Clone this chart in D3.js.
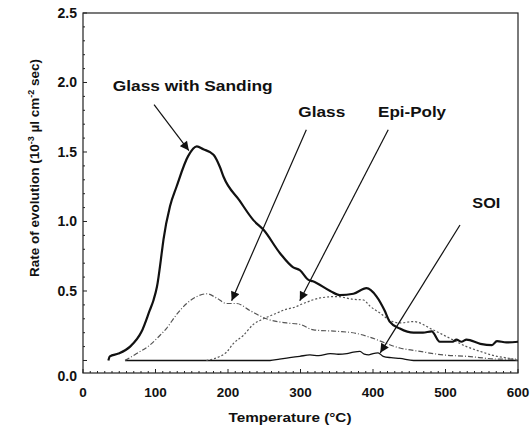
<!DOCTYPE html>
<html>
<head>
<meta charset="utf-8">
<script src="https://cdn.jsdelivr.net/npm/d3@7"></script>
<style>
  body { margin: 0; background: #fff; }
  text { font-family: "Liberation Sans", Arial, sans-serif; font-weight: bold; fill: #111; }
</style>
</head>
<body>
<div id="chart"></div>
<script>
// --- DATA ---
const sandT = [35, 37, 49, 65, 81, 92, 97, 102, 109, 111, 120, 129, 145, 157, 166, 180, 189, 194, 216, 235, 249, 272, 290, 299, 311, 317, 341, 354, 373, 391, 405, 416, 423, 437, 456, 469, 481, 492, 510, 515, 522, 529, 548, 564, 571, 584, 600];
const sandV = [0.0, 0.03, 0.05, 0.10, 0.21, 0.36, 0.43, 0.53, 0.79, 0.87, 1.11, 1.25, 1.47, 1.54, 1.52, 1.48, 1.39, 1.32, 1.15, 1.01, 0.94, 0.77, 0.67, 0.65, 0.58, 0.57, 0.50, 0.47, 0.48, 0.52, 0.46, 0.36, 0.28, 0.23, 0.20, 0.20, 0.21, 0.135, 0.135, 0.15, 0.135, 0.15, 0.12, 0.11, 0.14, 0.13, 0.135];

const glassT = [58, 74, 92, 106, 115, 129, 143, 157, 171, 184, 198, 212, 230, 253, 281, 299, 318, 350, 377, 394, 437, 465, 497, 529, 575, 600];
const glassV = [0.0, 0.05, 0.11, 0.18, 0.23, 0.33, 0.41, 0.46, 0.48, 0.45, 0.41, 0.41, 0.36, 0.30, 0.27, 0.26, 0.22, 0.21, 0.195, 0.17, 0.09, 0.065, 0.04, 0.03, 0.01, 0.01];

const epiT = [170, 189, 198, 207, 221, 235, 249, 267, 281, 290, 304, 327, 350, 373, 387, 396, 410, 423, 437, 456, 483, 506, 529, 548, 571, 584, 600];
const epiV = [0.0, 0.03, 0.06, 0.12, 0.18, 0.26, 0.30, 0.34, 0.37, 0.38, 0.41, 0.45, 0.46, 0.44, 0.435, 0.39, 0.34, 0.29, 0.27, 0.28, 0.22, 0.16, 0.10, 0.065, 0.03, 0.02, 0.0];

const soiT = [58, 258, 271, 285, 299, 313, 325, 341, 352, 364, 373, 382, 388, 394, 400, 407, 414, 425, 437, 456, 600];
const soiV = [0.0, 0.0, 0.01, 0.02, 0.03, 0.04, 0.035, 0.05, 0.045, 0.05, 0.06, 0.065, 0.045, 0.04, 0.05, 0.055, 0.03, 0.02, 0.015, 0.0, 0.0];

const xTicks = [0, 100, 200, 300, 400, 500, 600];
const yTicks = [0.5, 1.0, 1.5, 2.0, 2.5];

// labels: text, anchor point (T, value), target width in px
const labelText = ["Glass with Sanding", "Glass", "Epi-Poly", "SOI"];
const labelPos = [[41, 1.94], [297, 1.75], [407, 1.75], [537, 1.10]];
const labelWidth = [160, 47, 68, 28];
// arrows: [fromT, fromV, toT, toV]
const arrows = [[98, 1.84, 146, 1.51], [308, 1.66, 205, 0.43], [421, 1.66, 299, 0.43], [520, 0.975, 410, 0.055]];

// --- SETUP ---
const width = 532, height = 446;
const margin = {top: 13, right: 14, bottom: 73, left: 83};

const svg = d3.select("#chart").append("svg")
    .attr("width", width)
    .attr("height", height);

const x = d3.scaleLinear().domain([0, 600]).range([margin.left, width - margin.right]);
const y = d3.scaleLinear().domain([-0.09, 2.5]).range([height - margin.bottom, margin.top]);

// frame
svg.append("rect")
    .attr("x", x(0)).attr("y", y(2.5))
    .attr("width", x(600) - x(0)).attr("height", y(-0.09) - y(2.5))
    .attr("fill", "none").attr("stroke", "#222").attr("stroke-width", 1.2);

// minor + major ticks (inward)
const xMinor = d3.range(0, 601, 10);
svg.append("g").selectAll("line")
    .data(xMinor)
    .enter().append("line")
    .attr("x1", d => x(d)).attr("x2", d => x(d))
    .attr("y1", y(-0.09)).attr("y2", d => y(-0.09) - (d % 100 === 0 ? 4 : 2))
    .attr("stroke", "#222");

const yMinor = d3.range(0, 26).map(i => i / 10);
svg.append("g").selectAll("line")
    .data(yMinor)
    .enter().append("line")
    .attr("y1", d => y(d)).attr("y2", d => y(d))
    .attr("x1", x(0)).attr("x2", d => x(0) + (Math.round(d * 10) % 5 === 0 ? 4 : 2))
    .attr("stroke", "#222");

// tick labels
svg.append("g").selectAll("text")
    .data(xTicks)
    .enter().append("text")
    .attr("x", d => x(d))
    .attr("y", 397)
    .attr("text-anchor", "middle")
    .style("font-size", "13.5px")
    .text(d => d);

svg.append("g").selectAll("text")
    .data(yTicks)
    .enter().append("text")
    .attr("x", x(0) - 6)
    .attr("y", d => y(d))
    .attr("dy", "0.35em")
    .attr("text-anchor", "end")
    .style("font-size", "14px")
    .text(d => d.toFixed(1));

svg.append("text")
    .attr("x", x(0) - 6)
    .attr("y", y(-0.09) + 3)
    .attr("dy", "0.35em")
    .attr("text-anchor", "end")
    .style("font-size", "14px")
    .text("0.0");

// axis titles
svg.append("text")
    .attr("x", 290).attr("y", 422)
    .attr("text-anchor", "middle")
    .attr("textLength", 123).attr("lengthAdjust", "spacingAndGlyphs")
    .style("font-size", "13px")
    .text("Temperature (\u00B0C)");

const yTitle = svg.append("text")
    .attr("transform", "translate(39,168) rotate(-90)")
    .attr("text-anchor", "middle")
    .style("font-size", "13.5px");
yTitle.append("tspan").text("Rate of evolution (10");
yTitle.append("tspan").attr("dy", -5).style("font-size", "9px").text("-3");
yTitle.append("tspan").attr("dy", 5).text(" \u00B5l cm");
yTitle.append("tspan").attr("dy", -5).style("font-size", "9px").text("-2");
yTitle.append("tspan").attr("dy", 5).text(" sec)");

// --- CURVES ---
const line = d3.line().x(d => x(d[0])).y(d => y(d[1])).curve(d3.curveMonotoneX);

const series = [
    {t: soiT, v: soiV, color: "#111", w: 1.3, dash: null},
    {t: glassT, v: glassV, color: "#555", w: 1.2, dash: "5,2,1,2"},
    {t: epiT, v: epiV, color: "#555", w: 1.2, dash: "2,2"},
    {t: sandT, v: sandV, color: "#111", w: 2.2, dash: null}
];

svg.append("g").selectAll("path")
    .data(series)
    .enter().append("path")
    .attr("d", d => line(d.t.map((t, i) => [t, d.v[i]])))
    .attr("fill", "none")
    .attr("stroke", d => d.color)
    .attr("stroke-width", d => d.w)
    .attr("stroke-dasharray", d => d.dash)
    .attr("stroke-linejoin", "round");

// --- ANNOTATIONS ---
svg.append("defs").append("marker")
    .attr("id", "head")
    .attr("viewBox", "0 0 10 10")
    .attr("refX", 10).attr("refY", 5)
    .attr("markerWidth", 10).attr("markerHeight", 9)
    .attr("markerUnits", "userSpaceOnUse")
    .attr("orient", "auto")
    .append("path")
    .attr("d", "M0,0L10,5L0,10Z")
    .attr("fill", "#111");

svg.append("g").selectAll("line")
    .data(arrows)
    .enter().append("line")
    .attr("x1", d => x(d[0])).attr("y1", d => y(d[1]))
    .attr("x2", d => x(d[2])).attr("y2", d => y(d[3]))
    .attr("stroke", "#111")
    .attr("stroke-width", 1.2)
    .attr("marker-end", "url(#head)");

svg.append("g").selectAll("text")
    .data(labelText)
    .enter().append("text")
    .attr("x", (d, i) => x(labelPos[i][0]))
    .attr("y", (d, i) => y(labelPos[i][1]))
    .attr("textLength", (d, i) => labelWidth[i])
    .attr("lengthAdjust", "spacingAndGlyphs")
    .style("font-size", "15px")
    .text(d => d);
</script>
</body>
</html>
